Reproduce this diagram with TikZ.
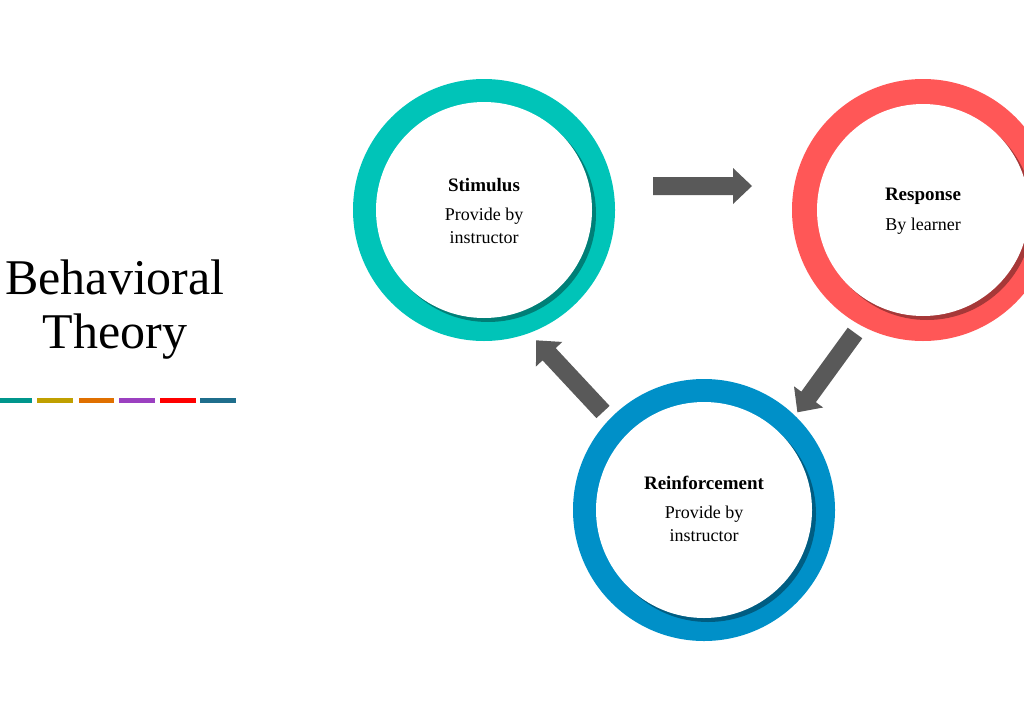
\documentclass[tikz,border=0pt]{standalone}
\usepackage{fontspec}
\setmainfont{Liberation Serif}
\usetikzlibrary{shadows}
\definecolor{cteal}{HTML}{00C4B8}
\definecolor{cred}{HTML}{FF5757}
\definecolor{cblue}{HTML}{0090C8}
\definecolor{agray}{HTML}{595959}
\tikzset{
 ring/.style={circle,minimum size=262pt,inner sep=0pt},
 hole/.style={circle,fill=white,minimum size=216pt,inner sep=0pt,drop shadow={shadow xshift=4pt,shadow yshift=-4pt,opacity=0.35,fill=black}},
 ttl/.style={font=\bfseries\fontsize{19}{22}\selectfont},
 sub/.style={font=\fontsize{18}{23}\selectfont,align=center},
 bar/.style={line width=5pt}
}
\newcommand{\blockarrow}[3]{% x y angle length
 \begin{scope}[shift={(#1)},rotate=#2]
 \fill[agray] (0,-9)--(#3-19,-9)--(#3-19,-18)--(#3,0)--(#3-19,18)--(#3-19,9)--(0,9)--cycle;
 \end{scope}}
\begin{document}
\begin{tikzpicture}[x=1pt,y=-1pt]
\useasboundingbox (0,0) rectangle (1024,720);
\node[ring,fill=cteal] (s) at (484,210) {};
\node[hole] (sh) at (484,210) {};
\node[ring,fill=cred] (r) at (923,210) {};
\node[hole,minimum size=212pt] (rh) at (923,210) {};
\node[ring,fill=cblue] (f) at (704,510) {};
\node[hole] (fh) at (704,510) {};
\node[ttl] (st) at (484,185) {Stimulus};
\node[sub] (ss) at (484,226) {Provide by\\instructor};
\node[ttl] (rt) at (923,196) {Response};
\node[sub] (rs) at (923,226) {By learner};
\node[ttl] (ft) at (704,483) {Reinforcement};
\node[sub] (fs) at (704,524) {Provide by\\instructor};
\blockarrow{653,186}{0}{99}
\blockarrow{855,333}{-126}{98}
\blockarrow{603,412}{-227}{98}
\node[font=\fontsize{50}{54}\selectfont,align=center] (t) at (115,310) {Behavioral\\Theory};
\draw[bar,color={rgb,255:red,0;green,150;blue,140}] (0,400)--(32,400);
\draw[bar,color={rgb,255:red,192;green,160;blue,0}] (37,400)--(73,400);
\draw[bar,color={rgb,255:red,224;green,112;blue,0}] (79,400)--(114,400);
\draw[bar,color={rgb,255:red,155;green,64;blue,192}] (119,400)--(155,400);
\draw[bar,color=red] (160,400)--(196,400);
\draw[bar,color={rgb,255:red,31;green,110;blue,140}] (200,400)--(236,400);
\end{tikzpicture}
\end{document}
